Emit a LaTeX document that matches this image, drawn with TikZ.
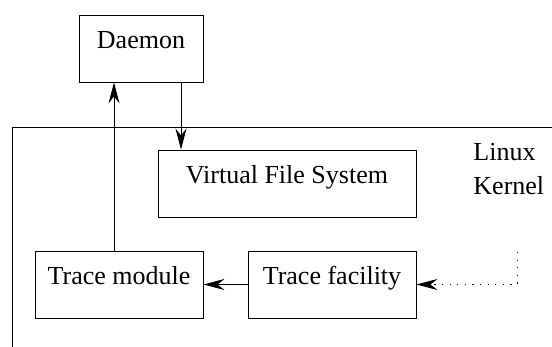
\documentclass[tikz,border=0pt]{standalone}
\usepackage{fontspec}
\setmainfont{Liberation Serif}
\usetikzlibrary{arrows.meta}
\begin{document}
\begin{tikzpicture}[x=1pt, y=-1pt,
  font=\fontsize{26}{34}\selectfont,
  line width=0.9pt,
  box/.style={draw, inner sep=0pt, text height=18pt, text depth=18pt, minimum height=67pt},
  tip/.style={-{Stealth[length=21pt, width=11pt, inset=7pt]}},
  dots/.style={dash pattern=on 1.2pt off 6.4pt}]
\useasboundingbox (0,0) rectangle (552,347);

% components
\node[box, minimum width=124pt] (daemon) at (141,48.5) {Daemon};
\node[box, minimum width=258pt] (vfs) at (287,183.5) {Virtual File System};
\node[box, minimum width=168pt] (tmod) at (119,284.5) {Trace module};
\node[box, minimum width=168pt] (tfac) at (332,284.5) {Trace facility};

% kernel boundary
\coordinate (kbl) at (12,347);
\coordinate (ktr) at (552,127);
\draw (kbl) |- (ktr);
\node[anchor=base west, inner sep=0pt] (linux) at (473,161) {Linux};
\node[anchor=base west, inner sep=0pt] (kernel) at (473,195) {Kernel};

% data flow
\draw[tip] ([xshift=-5pt]tmod.north) -- ([xshift=-5pt]tmod.north |- daemon.south);
\draw[tip] ([xshift=40pt]daemon.south) -- ([xshift=40pt]daemon.south |- vfs.north);
\draw[tip] (tfac.west) -- (tmod.east);
\coordinate (src) at (517,252);
\draw[tip, dots] (src) |- (tfac.east);
\end{tikzpicture}
\end{document}
